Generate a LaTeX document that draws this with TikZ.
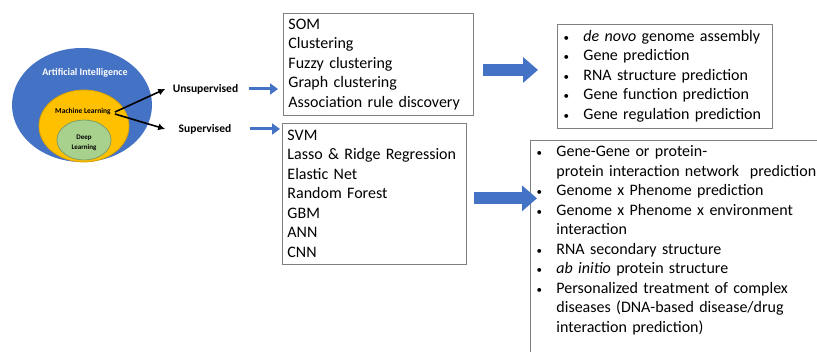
\documentclass[tikz,border=0pt]{standalone}
\usepackage{fontspec}
\setmainfont{Carlito}
\usetikzlibrary{arrows.meta,positioning,shapes.geometric}
\definecolor{aiblue}{HTML}{4472C4}
\definecolor{mlyellow}{HTML}{FFC000}
\definecolor{mledge}{HTML}{D9A200}
\definecolor{dlgreen}{HTML}{A9D18E}
\definecolor{dledge}{HTML}{7F9F6A}
\definecolor{boxedge}{HTML}{808080}
\newcommand{\dotmark}{\makebox[8pt]{\fontsize{11}{11}\selectfont\textbullet}}
\tikzset{%
  listbox/.style={draw=boxedge,line width=0.9pt,rectangle,anchor=north west,%
    align=left,inner xsep=5pt,inner ysep=3pt,font=\fontsize{16}{19.5}\selectfont},
  blob/.style={ellipse,inner sep=0pt},
  tag/.style={font=\bfseries\fontsize{11.5}{13}\selectfont},
  thinarrow/.style={draw=aiblue,line width=3pt,-{Triangle[length=8pt,width=11pt]}},
  fatarrow/.style={draw=aiblue,line width=12pt,-{Triangle[length=15pt,width=25pt]}},
  mlarrow/.style={draw=black,line width=1.6pt,-{Latex[length=7pt,width=7pt]}}
}
\begin{document}
\begin{tikzpicture}[x=1pt,y=-1pt]
	\useasboundingbox (0,0) rectangle (817,352);
	\clip (0,0) rectangle (817,352);
	
	% nested fields
	\node[blob,fill=aiblue,minimum width=140pt,minimum height=114pt] (ai) at (82,105) {};
	\node[blob,fill=mlyellow,draw=mledge,line width=0.8pt,minimum width=90pt,minimum height=72pt] (ml) at (84,126) {};
	\node[blob,fill=dlgreen,draw=dledge,line width=0.8pt,minimum width=54pt,minimum height=40pt] (dl) at (84,140) {};
	\node[text=white,font=\bfseries\fontsize{10}{12}\selectfont] (aitext) at (85,73) {Artificial Intelligence};
	\node[font=\bfseries\fontsize{7.5}{9}\selectfont,inner sep=1pt] (mltext) at (83,112) {Machine Learning};
	\node[font=\bfseries\fontsize{7}{10}\selectfont,align=center] (dltext) at (84,143) {Deep\\Learning};
	
	\node[tag] (unsup) at (205.5,89) {Unsupervised};
	\node[tag] (sup) at (205,129) {Supervised};
	\draw[mlarrow] ([xshift=3pt]mltext.east) -- ([xshift=-4pt]unsup.west);
	\draw[mlarrow] ([xshift=3pt,yshift=-2pt]mltext.east) -- ([xshift=-10pt]sup.west);
	
	% method boxes
	\node[listbox,text width=180pt,minimum height=102pt] (unsupbox) at (283,13)
		{SOM\\Clustering\\Fuzzy clustering\\Graph clustering\\Association rule discovery};
	\node[listbox,text width=174pt,minimum height=141pt,below right=7pt and -1pt of unsupbox.south west] (supbox)
		{SVM\\Lasso \& Ridge Regression\\Elastic Net\\Random Forest\\GBM\\ANN\\CNN};
	\draw[thinarrow] ([xshift=7pt]unsup.east) -- ([xshift=-5pt]unsup.east -| unsupbox.west);
	\draw[thinarrow] ([xshift=15pt]sup.east) -- ([xshift=-2pt]sup.east -| supbox.west);
	
	% applications
	\node[listbox,text width=205pt,minimum height=104pt] (unsupapp) at (557,24)
		{\begin{tabular}[t]{@{}c@{\hspace{13pt}}l@{}}
		\dotmark & \textit{de novo} genome assembly\\
		\dotmark & Gene prediction\\
		\dotmark & RNA structure prediction\\
		\dotmark & Gene function prediction\\
		\dotmark & Gene regulation prediction
		\end{tabular}};
	\node[listbox,text width=310pt,text depth=205pt,below right=11pt and -27pt of unsupapp.south west] (supapp)
		{\begin{tabular}[t]{@{}c@{\hspace{13pt}}l@{}}
		\dotmark & Gene-Gene or protein-\\
		 & protein interaction network\ \ prediction\\
		\dotmark & Genome x Phenome prediction\\
		\dotmark & Genome x Phenome x environment\\
		 & interaction\\
		\dotmark & RNA secondary structure\\
		\dotmark & \textit{ab initio} protein structure\\
		\dotmark & Personalized treatment of complex\\
		 & diseases (DNA-based disease/drug\\
		 & interaction prediction)
		\end{tabular}};
	
	\draw[fatarrow] ([xshift=9pt,yshift=-5.5pt]unsupbox.east) coordinate (a1) -- (a1 -| unsupapp.west)
		[shorten >=19pt];
	\draw[fatarrow,shorten >=-7pt] ([xshift=7pt,yshift=-4.5pt]supbox.east) coordinate (a2) -- (a2 -| supapp.west);
\end{tikzpicture}
\end{document}
